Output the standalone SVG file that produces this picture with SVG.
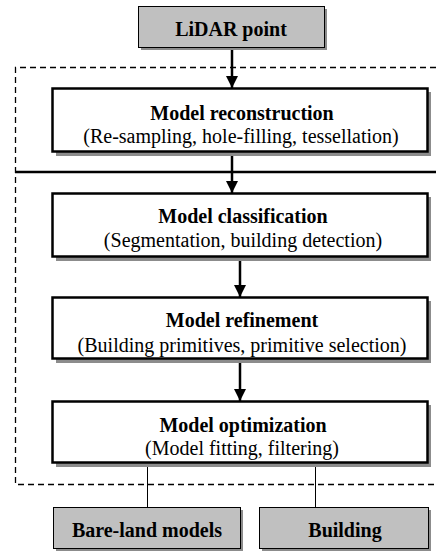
<svg xmlns="http://www.w3.org/2000/svg" width="436" height="552" viewBox="0 0 436 552">
<defs>
<style>
.t{font-family:"Liberation Serif","Times New Roman",serif;font-weight:bold;font-size:20px;text-anchor:middle;fill:#000}
.s{font-family:"Liberation Serif","Times New Roman",serif;font-size:20px;text-anchor:middle;fill:#000}
.box{fill:#fff;stroke:#000;stroke-width:2.5}
.gbox{fill:#c0c0c0;stroke:#000;stroke-width:1}
.sh{fill:#8c8c8c}
.ln{stroke:#000;stroke-width:2.5;fill:none}
.thin{stroke:#000;stroke-width:1;fill:none}
.dash{stroke:#000;stroke-width:1.3;fill:none;stroke-dasharray:6 4}
</style>
<marker id="ah" viewBox="0 0 10 10" refX="10" refY="5" markerWidth="5" markerHeight="5" orient="auto" markerUnits="strokeWidth">
<path d="M0,0 L10,5 L0,10 z" fill="#000"/>
</marker>
</defs>
<g id="frame">
<path class="dash" d="M436,67.5 H15.5 V484.5 H436"/>
<line x1="15" y1="172" x2="436" y2="172" stroke="#000" stroke-width="2.5"/>
</g>
<g id="connectors">
<line class="ln" x1="232" y1="47" x2="232" y2="88" marker-end="url(#ah)"/>
<line class="ln" x1="232" y1="152" x2="232" y2="193" marker-end="url(#ah)"/>
<line class="ln" x1="240" y1="257" x2="240" y2="297" marker-end="url(#ah)"/>
<line class="ln" x1="240" y1="359" x2="240" y2="401" marker-end="url(#ah)"/>
<line class="thin" x1="147.5" y1="463" x2="147.5" y2="507"/>
<line class="thin" x1="315.5" y1="463" x2="315.5" y2="507"/>
</g>
<g id="lidar">
<rect class="sh" x="141" y="9" width="186" height="41"/>
<rect class="gbox" x="138.5" y="6.5" width="186" height="41"/>
<text class="t" x="231" y="36">LiDAR point</text>
</g>
<g id="reconstruction">
<rect class="sh" x="56" y="92" width="375" height="64"/>
<rect class="box" x="52.5" y="88.5" width="375" height="63"/>
<text class="t" x="242" y="120">Model reconstruction</text>
<text class="s" x="241" y="143">(Re-sampling, hole-filling, tessellation)</text>
</g>
<g id="classification">
<rect class="sh" x="56" y="197" width="375" height="64"/>
<rect class="box" x="52.5" y="193.5" width="375" height="63"/>
<text class="t" x="243" y="223">Model classification</text>
<text class="s" x="243" y="247">(Segmentation, building detection)</text>
</g>
<g id="refinement">
<rect class="sh" x="56" y="301" width="375" height="62"/>
<rect class="box" x="52.5" y="297.5" width="375" height="61"/>
<text class="t" x="242" y="327">Model refinement</text>
<text class="s" x="242" y="352">(Building primitives, primitive selection)</text>
</g>
<g id="optimization">
<rect class="sh" x="56" y="405" width="375" height="62"/>
<rect class="box" x="52.5" y="401.5" width="375" height="61"/>
<text class="t" x="243" y="432">Model optimization</text>
<text class="s" x="242" y="455">(Model fitting, filtering)</text>
</g>
<g id="bareland">
<rect class="sh" x="56" y="510" width="187" height="41"/>
<rect class="gbox" x="53.5" y="507.5" width="187" height="41"/>
<text class="t" x="147" y="537">Bare-land models</text>
</g>
<g id="building">
<rect class="sh" x="262" y="510" width="169" height="41"/>
<rect class="gbox" x="259.5" y="507.5" width="169" height="41"/>
<text class="t" x="345" y="537">Building</text>
</g>
</svg>
